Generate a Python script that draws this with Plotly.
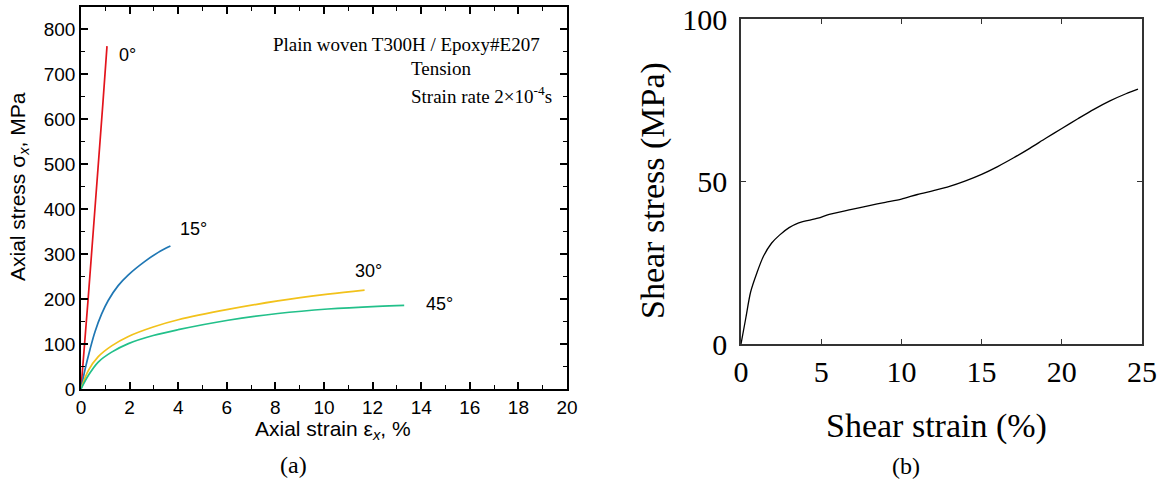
import plotly.graph_objects as go

# ---------------- data: panel (a) ----------------
strain_0 = [0, 0.3, 0.6, 0.9, 1.07]
stress_0 = [0, 205, 420, 635, 763]

strain_15 = [0, 0.16, 0.37, 0.58, 0.85, 1.12, 1.53, 1.95, 2.63, 3.18, 3.68]
stress_15 = [0, 42, 88, 128, 167, 197, 230, 254, 284, 304, 318]

strain_30 = [0, 0.3, 0.71, 1.26, 1.95, 2.97, 4.0, 6.05, 8.1, 10.16, 11.67]
stress_30 = [0, 41, 72, 96, 117, 138, 154, 177, 196, 211, 220]

strain_45 = [0, 0.3, 0.71, 1.26, 1.95, 2.97, 4.0, 6.05, 8.1, 10.16, 12.2, 13.3]
stress_45 = [0, 30, 60, 82, 101, 119, 132, 153, 168, 178, 184, 186]

angle_labels = ["0°", "15°", "30°", "45°"]
angle_label_x = [1.5, 4.0, 11.2, 14.1]
angle_label_y = [744, 356, 263, 190]

# ---------------- data: panel (b) ----------------
shear_strain = [0, 0.3, 0.6, 1.0, 1.4, 1.9, 2.4, 3.0, 3.6, 4.8, 5.5, 6.9, 8, 9, 10, 11,
                12, 13, 14, 15, 16, 17, 18, 19, 20, 21, 22, 23, 24, 24.75]
shear_stress = [0, 8, 16, 22, 27, 31, 33.5, 35.8, 37.3, 38.7, 39.9, 41.4, 42.6, 43.6, 44.6, 46,
                47.2, 48.5, 50.2, 52.2, 54.6, 57.3, 60.2, 63.3, 66.3, 69.3, 72.2, 74.8, 77, 78.4]

fig = go.Figure()

colors = ["#e3141c", "#1f77b4", "#f2c21b", "#22c08a"]
for xs, ys, c in zip([strain_0, strain_15, strain_30, strain_45],
                     [stress_0, stress_15, stress_30, stress_45], colors):
    fig.add_trace(go.Scatter(x=xs, y=ys, mode="lines",
                             line=dict(color=c, width=1.7, shape="spline", smoothing=1.0),
                             xaxis="x", yaxis="y", showlegend=False, hoverinfo="skip"))

fig.add_trace(go.Scatter(x=shear_strain, y=shear_stress, mode="lines",
                         line=dict(color="black", width=1.3, shape="spline", smoothing=0.8),
                         xaxis="x2", yaxis="y2", showlegend=False, hoverinfo="skip"))

W, H = 1161, 483
def px(x):
    return x / W
def py(y):
    return 1 - y / H

sans = "Liberation Sans, Arial, sans-serif"
serif = "Liberation Serif, Times New Roman, serif"

fig.update_layout(
    template="none",
    width=W, height=H, margin=dict(l=0, r=0, t=0, b=0, pad=0),
    paper_bgcolor="white", plot_bgcolor="white",
    xaxis=dict(domain=[px(81), px(567)], range=[0, 20], dtick=2, tick0=0, automargin=False,
               ticks="inside", ticklen=7, tickwidth=1.5, tickcolor="black",
               showline=True, linecolor="black", linewidth=1.5, mirror="ticks",
               showgrid=False, zeroline=False,
               minor=dict(dtick=1, ticks="inside", ticklen=4, tickwidth=1.2, tickcolor="black", showgrid=False),
               tickfont=dict(family=sans, size=19, color="black"), anchor="y"),
    yaxis=dict(domain=[py(389), py(7)], range=[0, 850], dtick=100, tick0=0, automargin=False,
               ticks="inside", ticklen=7, tickwidth=1.5, tickcolor="black",
               showline=True, linecolor="black", linewidth=1.5, mirror="ticks",
               showgrid=False, zeroline=False,
               minor=dict(dtick=50, ticks="inside", ticklen=4, tickwidth=1.2, tickcolor="black", showgrid=False),
               tickfont=dict(family=sans, size=19, color="black"), anchor="x"),
    xaxis2=dict(domain=[px(741), px(1142)], range=[0, 25], dtick=5, tick0=0, automargin=False,
                ticks="inside", ticklen=5, tickwidth=1, tickcolor="#333",
                showline=True, linecolor="#333", linewidth=1.5, mirror="ticks",
                showgrid=False, zeroline=False,
                tickfont=dict(family=serif, size=30, color="black"), anchor="y2"),
    yaxis2=dict(domain=[py(344), py(19)], range=[0, 100], dtick=50, tick0=0, automargin=False,
                ticks="inside", ticklen=5, tickwidth=1, tickcolor="#333",
                showline=True, linecolor="#333", linewidth=1.5, mirror="ticks",
                showgrid=False, zeroline=False, ticklabelstandoff=6,
                tickfont=dict(family=serif, size=30, color="black"), anchor="x2"),
)

ann = []
def add(x, y, text, size, family, **kw):
    d = dict(x=x, y=y, xref="paper", yref="paper", showarrow=False, text=text,
             xanchor="center", yanchor="middle", font=dict(family=family, size=size, color="black"))
    d.update(kw)
    ann.append(d)

# axis titles panel (a)
add(px(333), py(430), "Axial strain ε<i><sub>x</sub></i>, %", 21, sans)
add(px(19), py(187), "Axial stress σ<i><sub>x</sub></i>, MPa", 21, sans, textangle=-90)
# curve labels
for lx, ly, t in zip(angle_label_x, angle_label_y, angle_labels):
    ann.append(dict(x=lx, y=ly, xref="x", yref="y", showarrow=False, text=t,
                    xanchor="left", yanchor="middle",
                    font=dict(family=sans, size=18, color="black")))
# text box
add(px(406), py(45), "Plain woven T300H / Epoxy#E207", 19, serif)
add(px(409), py(69), "Tension", 19, serif, xanchor="left")
add(px(409), py(95), "Strain rate 2×10<sup>-4</sup>s", 19, serif, xanchor="left")
# panel (b) titles
add(px(936), py(426), "Shear strain (%)", 34, serif)
add(px(653), py(191), "Shear stress (MPa)", 34, serif, textangle=-90)
# captions
add(px(293), py(465), "(a)", 24, serif)
add(px(906), py(466), "(b)", 24, serif)

fig.update_layout(annotations=ann)
fig.write_html("out.html", config={"displayModeBar": False},
               post_script="document.body.style.margin='0px';")
